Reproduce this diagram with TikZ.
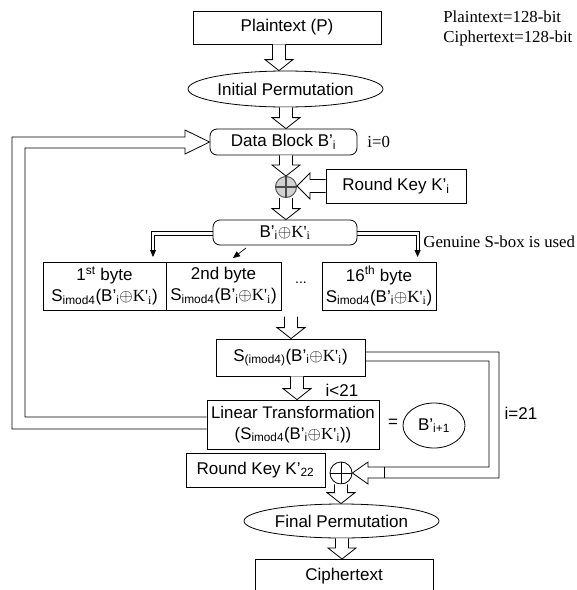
\documentclass[tikz,border=0pt]{standalone}
\usepackage{fontspec}
\setmainfont{Liberation Sans}
\newfontfamily\tms{Liberation Serif}
\usetikzlibrary{shapes.geometric,calc,arrows.meta}
\newcommand\Bi{B'\textsubscript{i}}
\newcommand\Ki{{\tms K'\textsubscript{i}}}
\newcommand\xo{\ensuremath{\oplus}}
\newcommand\Sm{S\textsubscript{imod4}}
\newcommand\vblk[3]{\draw[blk] let \p1=(#2), \p2=(#3) in
  (#1pt-6.5pt,\y1) -- (#1pt-6.5pt,\y2+11pt) -- (#1pt-14pt,\y2+11pt) -- (#1pt,\y2)
  -- (#1pt+14pt,\y2+11pt) -- (#1pt+6.5pt,\y2+11pt) -- (#1pt+6.5pt,\y1);}
\begin{document}
\begin{tikzpicture}[x=1pt,y=-1pt,line width=0.8pt,
  box/.style={draw,inner sep=0pt,align=center,font=\fontsize{17}{21}\selectfont},
  rbox/.style={box,rounded corners=7pt},
  ell/.style={box,ellipse},
  blk/.style={draw,fill=white,line join=miter},
  lbl/.style={inner sep=0pt,font=\fontsize{17}{21}\selectfont},
  tlbl/.style={inner sep=0pt,font={\fontsize{16.8}{21}\tms}},
  tip/.style={-{Triangle[length=7pt,width=6pt]}},
  dbl/.style={line width=0.7pt,line join=miter}]
\useasboundingbox (0,0) rectangle (577,590);
\clip (0,0) rectangle (577,590);
% nodes
\node[box,minimum width=188,minimum height=33] (P) at (287,27.5) {Plaintext (P)};
\node[tlbl,anchor=west] (t1) at (443,17) {Plaintext=128-bit};
\node[tlbl,anchor=west] (t2) at (443,38) {Ciphertext=128-bit};
\node[ell,minimum width=195,minimum height=36] (IP) at (285.5,89) {Initial Permutation};
\node[rbox,minimum width=147,minimum height=26] (DB) at (283.5,142) {Data Block \Bi};
\node[tlbl,anchor=west] (i0) at (367,142) {i=0};
\node[circle,draw=black!65,fill=gray!35,minimum size=21,inner sep=0pt,line width=1pt] (X1) at (286,187) {};
\draw[black!70,line width=1.3pt] (X1.north) -- (X1.south) (X1.west) -- (X1.east);
\node[box,minimum width=140,minimum height=34] (RK) at (396,186) {Round Key K'\textsubscript{i}};
\node[rbox,minimum width=144,minimum height=25] (BK) at (285,232.5) {\Bi\xo\Ki};
\node[box,minimum width=123,minimum height=48] (B1) at (104.5,286) {1\textsuperscript{st} byte\\\Sm(\Bi\xo\Ki)};
\node[box,minimum width=115,minimum height=48] (B2) at (223.5,286) {2nd byte\\\Sm(\Bi\xo\Ki)};
\node[lbl,font=\fontsize{14}{16}\selectfont] (dots) at (301,283) {...};
\node[box,minimum width=114,minimum height=48] (B16) at (379,286) {16\textsuperscript{th} byte\\\Sm(\Bi\xo\Ki)};
\node[tlbl,anchor=west] (gen) at (423,242) {Genuine S-box is used};
\node[box,minimum width=149,minimum height=37] (S) at (290.5,357.5) {S\textsubscript{(imod4)}(\Bi\xo\Ki)};
\node[lbl] (ilt) at (342,390) {i<21};
\node[box,minimum width=172,minimum height=49,font=\fontsize{16.8}{21}\selectfont] (LT) at (293,424.5) {Linear Transformation\\(\Sm(\Bi\xo\Ki))};
\node[lbl] (eq) at (393,423) {=};
\node[ell,minimum width=62,minimum height=45] (Bn) at (434,425.5) {B'\textsubscript{i+1}};
\node[lbl] (i21) at (521,413) {i=21};
\node[box,minimum width=139,minimum height=34] (RK2) at (255.5,470) {Round Key K'\textsubscript{22}};
\node[circle,draw,minimum size=22,inner sep=0pt] (X2) at (341,473) {};
\draw (X2.north) -- (X2.south) (X2.west) -- (X2.east);
\node[ell,minimum width=195,minimum height=34] (FP) at (341.5,521) {Final Permutation};
\node[box,minimum width=178,minimum height=34,anchor=north] (C) at (344,559) {Ciphertext};
% block arrows
\vblk{279}{P.south}{IP.north}
\vblk{286}{IP.south}{DB.north}
\vblk{286}{DB.south}{X1.north}
\vblk{286}{X1.south}{BK.north}
\vblk{291}{$(S.north)+(0,-22)$}{S.north}
\vblk{297}{S.south}{LT.north}
\vblk{341}{X2.south}{FP.north}
\vblk{342}{FP.south}{C.north}
\draw[blk] let \p1=(RK.west), \p2=(X1.east) in
  (\x1,\y1+6.5pt) -- (\x2+13pt,\y1+6.5pt) -- (\x2+13pt,\y1+13pt) -- (\x2,\y1)
  -- (\x2+13pt,\y1-13pt) -- (\x2+13pt,\y1-6.5pt) -- (\x1,\y1-6.5pt);
% feedback arrow
\draw[line join=miter] ($(LT.west)+(0,-7.5)$) -- (25,417) -- (25,148) -- (185,148) -- (185,154)
  -- (DB.west) -- (185,130) -- (185,137) -- (12,137) -- (12,429) -- ($(LT.west)+(0,4.5)$);
% i=21 arrow
\draw[line join=miter] ($(S.east)+(0,-5.5)$) -- (499,352) -- (499,478) -- (368,478) -- (368,484)
  -- (X2.east) -- (368,462) -- (368,467) -- (489,467) -- (489,361) -- ($(S.east)+(0,3.5)$);
\draw (384,467) -- (384,478);
% S-box distribution
\draw[dbl] ($(BK.west)+(0,-0.8)$) -- (151.5,231.7) -- (151.5,251);
\draw[dbl] ($(BK.west)+(0,2.6)$) -- (154.8,235.1) -- (154.8,251);
\draw[tip] (153,250) -- (153,257);
\draw[dbl] ($(BK.east)+(0,-0.8)$) -- (419.3,231.7) -- (419.3,251);
\draw[dbl] ($(BK.east)+(0,2.6)$) -- (415.9,235.1) -- (415.9,251);
\draw[tip] (417.6,250) -- (417.6,257);
\draw[tip,line width=0.7pt] (246,248) -- (233,258);
\end{tikzpicture}
\end{document}
